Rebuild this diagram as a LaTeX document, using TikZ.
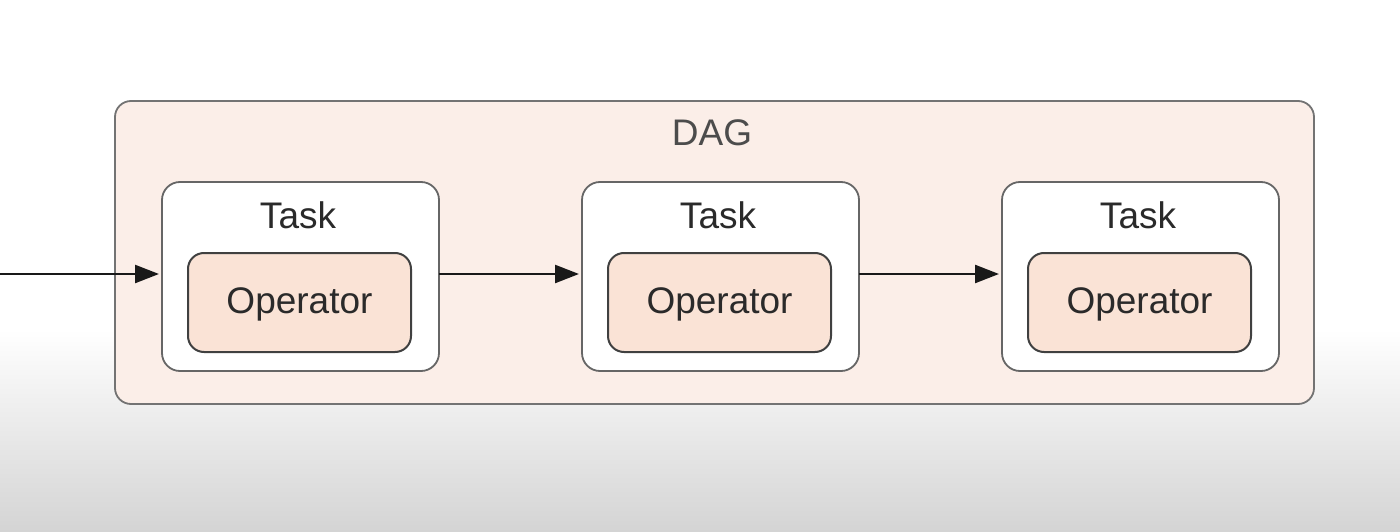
\documentclass[tikz,border=0pt]{standalone}
\usepackage{fontspec}
\setmainfont{Liberation Sans}
\usetikzlibrary{arrows.meta}
\definecolor{dagfill}{HTML}{FBEEE8}
\definecolor{opfill}{HTML}{FAE3D6}
\definecolor{txt}{HTML}{2A2A2A}
\definecolor{bggray}{HTML}{D4D4D4}
\tikzset{
  dagbox/.style={draw=black!55, line width=1.8pt, fill=dagfill, rounded corners=16pt},
  taskbox/.style={draw=black!60, line width=1.8pt, fill=white, rounded corners=18pt},
  opbox/.style={draw=black!75, line width=2pt, fill=opfill, rounded corners=16pt},
  lbl/.style={text=txt, font=\fontsize{37}{40}\selectfont, inner sep=0pt, anchor=base},
  conn/.style={line width=2.4pt, black!90, -{Triangle[length=24pt, width=18pt]}}
}
\begin{document}
\begin{tikzpicture}[x=1pt,y=-1pt]
\useasboundingbox (0,0) rectangle (1400,532);
\fill[white] (0,0) rectangle (1400,330);
\shade[top color=white, bottom color=bggray] (0,329.5) rectangle (1400,532);
% DAG
\draw[dagbox] (115,101) rectangle (1314,404);
\node[lbl, text=black!70] (dag) at (712,146) {DAG};
% Tasks
\foreach \i/\x in {1/162,2/582,3/1002}{
  \draw[taskbox] (\x,182) rectangle ++(277,189);
  \node[lbl] (t\i) at (\x+136,228) {Task};
  \node[opbox, minimum width=223pt, minimum height=99pt, inner sep=0pt] (op\i) at (\x+137.5,302.5) {};
  \node[lbl] at (\x+137.5,313) {Operator};
  \coordinate (tl\i) at (\x,274);
  \coordinate (tr\i) at (\x+277,274);
}
\coordinate (start) at (0,274);
\draw[conn] (start) -- ([xshift=-3pt]tl1);
\draw[conn] (tr1) -- ([xshift=-3pt]tl2);
\draw[conn] (tr2) -- ([xshift=-3pt]tl3);
\end{tikzpicture}
\end{document}
